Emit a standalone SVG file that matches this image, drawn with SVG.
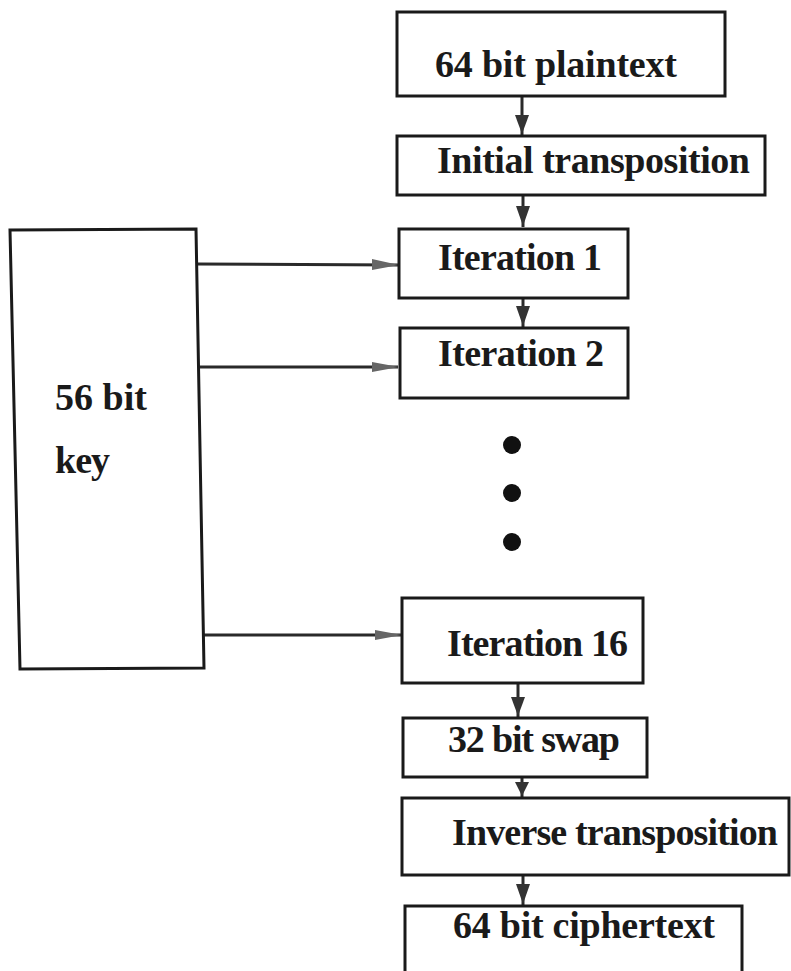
<svg xmlns="http://www.w3.org/2000/svg" width="791" height="971" viewBox="0 0 791 971">
<defs>
<style>
.box{fill:#fff;stroke:#1a1a1a;stroke-width:3}
.t{font-family:"Liberation Serif","Times New Roman",serif;font-weight:bold;font-size:38px;fill:#1a1a1a}
.c{stroke:#2a2a2a;stroke-width:3;fill:none}
.ah{fill:#333}
.ahr{fill:#666}
</style>
</defs>
<rect width="791" height="971" fill="#fff"/>
<g id="connectors">
<line class="c" x1="522" y1="97" x2="522" y2="135"/>
<line class="c" x1="523" y1="196" x2="523" y2="227"/>
<line class="c" x1="523" y1="299" x2="523" y2="327"/>
<line class="c" x1="518" y1="684" x2="518" y2="717"/>
<line class="c" x1="522" y1="778" x2="522" y2="797"/>
<line class="c" x1="523" y1="876" x2="523" y2="905"/>
<path class="ah" d="M515,115 L529,115 L522,134 Z"/>
<path class="ah" d="M516,206 L530,206 L523,226 Z"/>
<path class="ah" d="M516,306 L530,306 L523,326 Z"/>
<path class="ah" d="M511,697 L525,697 L518,716 Z"/>
<path class="ah" d="M515,782 L529,782 L522,796 Z"/>
<path class="ah" d="M516,884 L530,884 L523,904 Z"/>
<line class="c" x1="197" y1="264" x2="398" y2="265"/>
<line class="c" x1="200" y1="367" x2="398" y2="367"/>
<line class="c" x1="204" y1="635" x2="401" y2="635"/>
<path class="ahr" d="M372,259 L399,265 L372,270 Z"/>
<path class="ahr" d="M372,362 L399,367 L372,372 Z"/>
<path class="ahr" d="M375,630 L402,635 L375,640 Z"/>
</g>
<g id="key">
<polygon class="box" points="10,230 196,229 204,668 20,669"/>
<text class="t" x="55" y="410" textLength="92">56 bit</text>
<text class="t" x="55" y="473" textLength="55">key</text>
</g>
<g id="plaintext">
<rect class="box" x="397" y="12" width="328" height="84"/>
<text class="t" x="435" y="77" textLength="242">64 bit plaintext</text>
</g>
<g id="initial">
<rect class="box" x="397" y="136" width="368" height="59"/>
<text class="t" x="437" y="173" textLength="313">Initial transposition</text>
</g>
<g id="iter1">
<rect class="box" x="399" y="229" width="229" height="69"/>
<text class="t" x="438" y="270" textLength="164">Iteration 1</text>
</g>
<g id="iter2">
<rect class="box" x="400" y="328" width="228" height="70"/>
<text class="t" x="438" y="366" textLength="166">Iteration 2</text>
</g>
<g id="dots">
<circle cx="512" cy="445" r="9" fill="#111"/>
<circle cx="512" cy="493" r="9" fill="#111"/>
<circle cx="512" cy="542" r="9" fill="#111"/>
</g>
<g id="iter16">
<rect class="box" x="402" y="598" width="241" height="85"/>
<text class="t" x="447" y="656" textLength="181">Iteration 16</text>
</g>
<g id="swap">
<rect class="box" x="403" y="718" width="244" height="59"/>
<text class="t" x="448" y="752" textLength="172">32 bit swap</text>
</g>
<g id="inverse">
<rect class="box" x="402" y="798" width="387" height="77"/>
<text class="t" x="452" y="845" textLength="326">Inverse transposition</text>
</g>
<g id="ciphertext">
<rect class="box" x="405" y="906" width="337" height="75"/>
<text class="t" x="453" y="938" textLength="262">64 bit ciphertext</text>
</g>
</svg>
